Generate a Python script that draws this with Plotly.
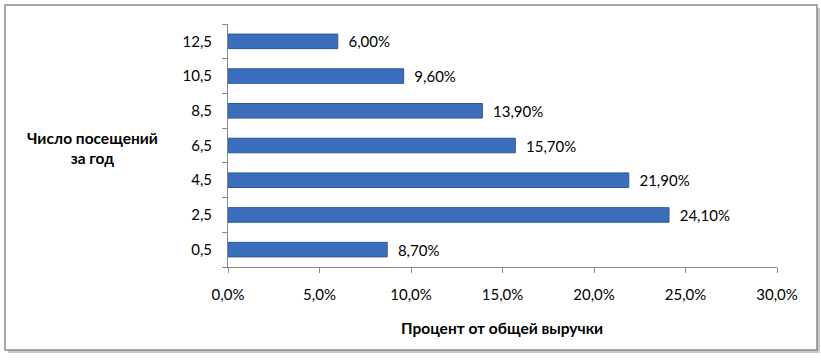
import plotly.graph_objects as go

categories = ["0,5", "2,5", "4,5", "6,5", "8,5", "10,5", "12,5"]
values = [8.7, 24.1, 21.9, 15.7, 13.9, 9.6, 6.0]
x_ticks = [0, 5, 10, 15, 20, 25, 30]
x_tick_labels = ["0,0%", "5,0%", "10,0%", "15,0%", "20,0%", "25,0%", "30,0%"]
y_title = "Число посещений<br>за год"
x_title = "Процент от общей выручки"

W, H = 821, 364
L, R, T, B = 228, 777, 24, 267

def px(x):
    return (x - L) / (R - L)

def py(y):
    return (B - y) / (B - T)

font = "Lato, Calibri, 'Open Sans', sans-serif"
FS = 15

fig = go.Figure()
fig.add_trace(go.Bar(
    y=categories, x=values, orientation="h",
    marker=dict(color="#3B6FBE", line=dict(color="#2C5A9A", width=1)),
    text=["\u00a0\u00a0" + f"{v:.2f}".replace(".", ",") + "%" for v in values],
    textposition="outside", cliponaxis=False, constraintext="none",
    textfont=dict(size=FS, color="#000000", family=font),
    width=0.42,
))

shapes = [
    dict(type="rect", xref="paper", yref="paper",
         x0=px(8), x1=px(820), y0=py(353), y1=py(8),
         line=dict(width=0), fillcolor="#C8C8C8", layer="below"),
    dict(type="rect", xref="paper", yref="paper",
         x0=px(5), x1=px(817), y0=py(350), y1=py(5),
         line=dict(color="#8C8C8C", width=1.5), fillcolor="#FFFFFF", layer="below"),
]

fig.update_layout(
    width=W, height=H,
    margin=dict(l=L, r=W - R, t=T, b=H - B, autoexpand=False),
    paper_bgcolor="#FFFFFF", plot_bgcolor="rgba(0,0,0,0)",
    separators=", ",
    showlegend=False,
    font=dict(family=font, size=FS, color="#000000"),
    shapes=shapes,
    bargap=0.6,
    xaxis=dict(
        range=[0, 30], tickvals=x_ticks, ticktext=x_tick_labels,
        showgrid=False, zeroline=False, automargin=False,
        showline=True, linecolor="#888888", linewidth=1,
        ticks="outside", ticklen=5, tickcolor="#888888",
        ticklabelstandoff=9,
        tickfont=dict(size=FS, family=font),
    ),
    yaxis=dict(
        type="category", categoryorder="array", categoryarray=categories,
        range=[-0.5, 6.5], automargin=False,
        showgrid=False, zeroline=False,
        showline=True, linecolor="#888888", linewidth=1,
        ticks="outside", ticklen=5, tickcolor="#888888",
        tickson="boundaries", ticklabelstandoff=12,
        tickfont=dict(size=FS, family=font),
    ),
    annotations=[
        dict(text=y_title, xref="paper", yref="paper", x=px(92), y=py(148),
             xanchor="center", yanchor="middle", showarrow=False, align="center",
             font=dict(size=15.5, family=font, color="#000000", weight="bold")),
        dict(text=x_title, xref="paper", yref="paper", x=px(502), y=py(328),
             xanchor="center", yanchor="middle", showarrow=False,
             font=dict(size=15.5, family=font, color="#000000", weight="bold")),
    ],
)

fig.write_html("out.html", config={"displayModeBar": False},
               post_script="document.body.style.margin='0';document.body.style.overflow='hidden';")
